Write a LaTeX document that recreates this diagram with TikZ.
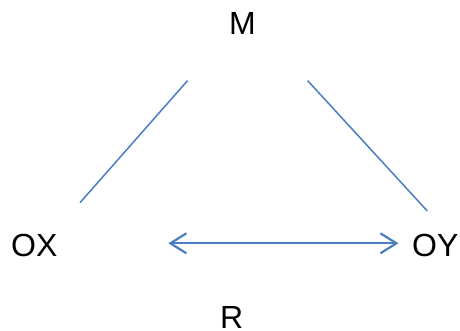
\documentclass[tikz,border=0pt]{standalone}
\usepackage{fontspec}
\setmainfont{Liberation Sans}
\usetikzlibrary{arrows.meta}
\definecolor{lineblue}{RGB}{74,126,193}
\begin{document}
\begin{tikzpicture}[x=1pt,y=-1pt,
  lbl/.style={inner sep=0pt,font=\fontsize{32}{36}\selectfont},
  conn/.style={draw=lineblue,line width=1.5pt},
  dbl/.style={draw=lineblue,line width=2.2pt,{Straight Barb[length=16pt,width=20pt,line width=2.2pt]}-{Straight Barb[length=16pt,width=20pt,line width=2.2pt]}}]
\useasboundingbox (0,0) rectangle (460,331);
\node[lbl,anchor=base] (M) at (242.5,35) {M};
\node[lbl,anchor=base west] (OX) at (11,256.5) {OX};
\node[lbl,anchor=base west] (OY) at (412,256.5) {OY};
\node[lbl,anchor=base west] (R) at (220,328) {R};
\coordinate (l1) at (187.5,80.7);
\coordinate (l2) at (80,202.7);
\coordinate (r1) at (307.7,80.7);
\coordinate (r2) at (427.3,211);
\coordinate (a1) at (168.3,243.3);
\coordinate (a2) at (398.5,243.3);
\draw[conn] (l1) -- (l2);
\draw[conn] (r1) -- (r2);
\draw[dbl] (a1) -- (a2);
\end{tikzpicture}
\end{document}
